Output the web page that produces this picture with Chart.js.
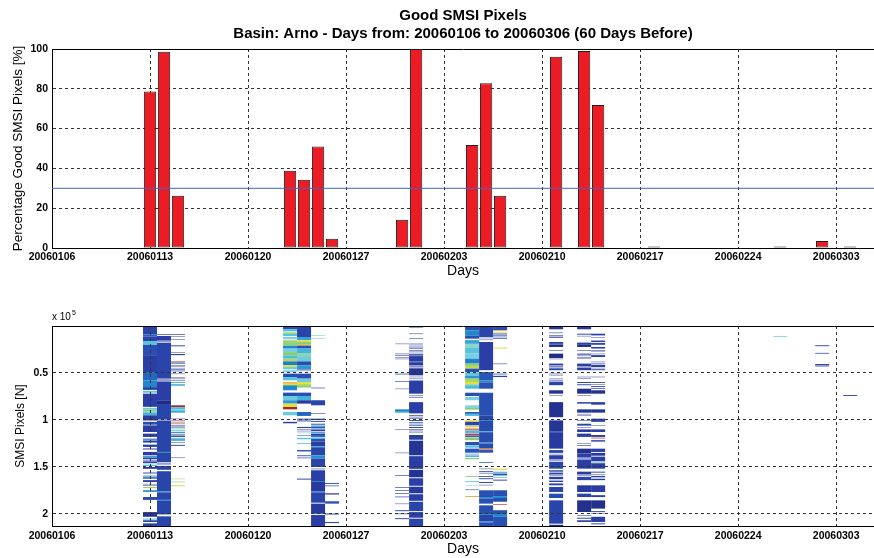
<!DOCTYPE html>
<html>
<head>
<meta charset="utf-8">
<script src="https://cdn.jsdelivr.net/npm/chart.js@4.4.0/dist/chart.umd.min.js"></script>
<style>
  html, body { margin: 0; padding: 0; background: #fff; }
  #wrap { position: relative; width: 874px; height: 558px; }
  #topChart { position: absolute; left: 0; top: 0; }
  #botChart { position: absolute; left: 0; top: 290px; }
</style>
</head>
<body>
<div id="wrap">
  <canvas id="topChart" width="874" height="290"></canvas>
  <canvas id="botChart" width="874" height="268"></canvas>
</div>
<script>
/* --- DATA --- */
const firstDay = '20060106';
const tickLabels = ['20060106', '20060113', '20060120', '20060127', '20060203', '20060210', '20060217', '20060224', '20060303'];
const lastVisibleDay = 58.7; // right edge of the axes (figure is cropped there)

// top panel: percentage of good SMSI pixels per day
const goodDays = ['20060113', '20060114', '20060115', '20060123', '20060124', '20060125', '20060126', '20060131', '20060201',
                  '20060205', '20060206', '20060207', '20060211', '20060213', '20060214', '20060218', '20060227', '20060302', '20060304'];
const goodPct = [78.6, 98.6, 26.2, 38.8, 34.3, 51, 4.7, 14.2, 100, 51.8, 82.8, 26.2, 96.1, 99, 71.9, 0.8, 0.8, 3.5, 0.8];
const threshold = 30;
const pctTicks = [0, 20, 40, 60, 80, 100];

// bottom panel: SMSI pixel strips, runs of [from, to, colour level] in thousands of pixels
const pixelsMax = 212.8;
const pixelTicks = [50, 100, 150, 200];
const px0113 = [[0,9,0.12],[9,11,0.2],[11,16,0.12],[16,20,0.42],[20,31,0.15],[31,49,0.1],[49,58,0.22],[58,65,0.3],[65,68,0.12],[69,71,0.42],
  [72,86,0.1],[87,89,0.45],[89,91,0.6],[91,92,0.45],[92,95,0.38],[95,100,0.1],[100.5,101,0.05],[102,105,0.15],[105.7,112.8,0.1],[114.5,118,0.1],
  [119.9,121,0.12],[121,122,0.4],[122,124,0.1],[126.2,128.7,0.12],[130,130.5,0.05],[131,131.5,0.05],[134,137.6,0.1],[138.3,140,0.35],[140,141.8,0.12],
  [143,143.5,0.05],[144,146,0.12],[147.5,149,0.42],[150,152,0.1],[155.3,155.8,0.05],[157,157.5,0.05],[159,160.5,0.4],[161,162.4,0.1],[164,166,0.1],
  [168,168.5,0.05],[169.5,170,0.05],[171.3,172.5,0.62],[174.8,176.5,0.3],[182,185,0.12],[198,203,0.05],[205,206,0.4],[206.7,208.5,0.1],[210,212.8,0.12]];
const px0114 = [[8.5,9.2,0.05],[10.6,15.6,0.1],[16.5,17,0.05],[17.7,56,0.12],[56.5,57,0.05],[58,58.5,0.05],[59,79,0.1],[79,83,0.02],[83,99.5,0.12],
  [100.5,134,0.12],[134,135,0.3],[135,145,0.12],[146,146.5,0.05],[147.5,148,0.05],[149,153,0.12],[154.5,176,0.12],[176,177,0.3],[177,185,0.12],
  [185,186,0.3],[186,200.5,0.12],[202.5,212.8,0.12]];
const px0115 = [[8.5,9.2,0.05],[11.2,11.7,0.05],[14.2,14.7,0.05],[20.6,21.6,0.1],[27.7,28.2,0.05],[29.8,31,0.12],[37.6,38.5,0.92],[38.8,39.5,0.3],
  [39.8,40.3,0.05],[41.8,42.3,0.05],[43.2,43.7,0.05],[45.4,46.4,0.1],[47.5,48.2,0.12],[50.7,51.2,0.05],[54.3,54.8,0.05],[56,56.5,0.05],[57.5,58,0.05],
  [59.6,60.6,0.38],[62,63.5,0.35],[84.4,86.5,0.98],[86.5,88.5,0.4],[88.5,90.5,0.45],[90.5,92.2,0.35],[98.6,99.1,0.05],[100.2,101,0.9],[102,102.5,0.05],
  [103.5,104.5,0.85],[105.5,106,0.05],[107,108,0.2],[109,110,0.55],[111,112,0.4],[113,114,0.25],[115,115.5,0.05],[116.5,118,0.12],[119,120,0.4],
  [120.5,122,0.3],[123.5,124,0.05],[126.5,127.5,0.1],[140,140.5,0.05],[162.4,163,0.62],[165.6,166.2,0.6],[169.5,170.5,0.68]];
const px0123 = [[0,3.5,0.15],[3.5,5.7,0.4],[6.4,7.8,0.7],[7.8,10.6,0.42],[11.7,14.2,0.48],[15.2,18,0.62],[18,21.3,0.58],[21.3,24.1,0.3],[24.1,27.7,0.47],
  [27.7,31.2,0.6],[31.2,34.8,0.4],[34.8,37.6,0.65],[37.6,41.8,0.28],[41.8,43.6,0.7],[43.6,46.1,0.45],[47,49,0.48],[50.7,54.3,0.15],[54.3,57.8,0.42],
  [59.6,61.5,0.78],[61.5,63.1,0.7],[63.1,68.4,0.3],[70.9,74.5,0.15],[74.5,79,0.45],[79,82.6,0.33],[82.6,86.2,0.7],[86.2,88.7,0.98],[91.5,95,0.45],
  [102,103.5,0.08]];
const px0124 = [[0,11.7,0.12],[11.7,15.2,0.35],[15.2,17,0.7],[17,20,0.6],[20,21,0.82],[21,24,0.15],[24,29.4,0.38],[29.4,33,0.55],[33,37.6,0.45],
  [37.6,41.8,0.15],[41.8,46,0.33],[46,46.5,0.08],[47.5,48,0.08],[50.7,56,0.15],[56,59.6,0.45],[59.6,61.5,0.7],[61.5,63,0.66],[63,65.5,0.6],
  [70.9,74.5,0.15],[74.5,79,0.38],[79,82.6,0.08],[91.5,95.7,0.22],[98.6,99.6,0.12],[100.5,101.5,0.12],[107.4,108.6,0.12],[110,110.5,0.08],
  [111.5,112,0.08],[113.5,114,0.4],[116,116.5,0.08],[119,120.5,0.42],[124.5,125.5,0.45],[132,133.5,0.15],[137.6,138.5,0.12],[140,140.7,0.08],
  [162.4,163.4,0.08]];
const px0125 = [[10,10.6,0.45],[12.8,13.4,0.45],[65.6,66.3,0.12],[79,84.4,0.12],[93,93.6,0.08],[98.6,100,0.12],[101,102,0.12],[104,105,0.12],
  [105.7,107,0.4],[107,109,0.18],[110,112,0.12],[113,114,0.3],[114.5,116,0.1],[116,118,0.2],[118.5,120,0.42],[120,123,0.15],[123,128,0.1],
  [128,129,0.35],[129,137.6,0.12],[137.6,141,0.32],[141,150,0.12],[151.8,152.4,0.08],[153.5,165,0.1],[165,166,0.25],[166,176,0.08],[176,177,0.25],
  [177,188,0.12],[189,199,0.08],[199,200,0.25],[201,212.8,0.1]];
const px0126 = [[167,168,0.15],[169.7,170.5,0.2],[178,179.3,0.08],[186.5,189,0.15],[199.6,200.6,0.12],[208.5,209.7,0.15]];
const px0131 = [[18.8,19.3,0.08],[29.4,30,0.1],[31.2,31.8,0.08],[33,33.5,0.1],[34.8,35.3,0.08],[50.7,51.5,0.12],[58.9,59.6,0.12],[66.7,67.2,0.08],
  [88.7,90.5,0.28],[90.5,92.2,0.35],[110,110.5,0.08],[134.8,135.3,0.08],[158.9,159.6,0.12],[171.3,172,0.1],[174.5,175.2,0.12],[178,178.7,0.1],
  [181.5,182.2,0.08],[189,189.5,0.08],[196,197,0.12],[199.5,200.2,0.1],[204.5,205.5,0.1]];
const px0201 = [[1,1.6,0.1],[8,8.6,0.1],[12.8,13.4,0.1],[18.8,19.5,0.12],[21,21.6,0.1],[23,24,0.12],[26,27,0.12],[28.5,29,0.08],[30,31.5,0.1],
  [32,38,0.1],[38.5,42,0.08],[43,44,0.1],[45,52.5,0.05],[54,54.5,0.08],[56,56.5,0.08],[58,72,0.1],[74,74.6,0.08],[76,76.6,0.1],[81,93,0.1],
  [95,96,0.12],[97.5,98.5,0.1],[100,101,0.12],[102.5,103.5,0.1],[105,106,0.12],[107.5,108.5,0.1],[110,111,0.1],[112.5,113.2,0.08],[116,121,0.1],
  [122,137.6,0.06],[138.5,152,0.1],[153,161,0.05],[162,170,0.1],[171,178,0.08],[179,186,0.1],[187,197,0.12],[198,204,0.1],[205,212.8,0.12]];
const px0205 = [[0,4.6,0.15],[4.6,10,0.3],[10,13.5,0.15],[15,19,0.35],[19,23.4,0.52],[23.4,29.4,0.42],[29.4,34.8,0.47],[34.8,40,0.28],[40,42.5,0.6],
  [42.5,45.4,0.66],[45.4,49,0.15],[49.5,52,0.4],[52.5,56,0.33],[56,59.6,0.64],[59.6,62,0.7],[62,63,0.58],[63,66.7,0.4],[71,74.5,0.15],[75.5,79,0.47],
  [84.4,87.2,0.48],[87.2,89,0.6],[91.5,93.5,0.2],[93.5,95.7,0.4],[100.4,102,0.72],[102,105.7,0.12],[106.4,107.8,0.72],[109,111.3,0.88],[111.3,114,0.4],
  [114.5,116.3,0.95],[116.5,118,0.15],[118.5,121.5,0.6],[123.4,127,0.15],[127.5,129.5,0.42],[130.5,134.8,0.18],[136,136.5,0.08],[137.6,139.5,0.4],
  [140.4,141.8,0.6],[159.6,160.5,0.6],[165,166,0.45],[169.5,170,0.47],[174,174.6,0.08],[180.9,181.8,0.82]];
const px0206 = [[0,11.7,0.12],[12.5,13,0.08],[14.5,15,0.08],[17,47,0.1],[49,58,0.18],[58,60,0.3],[60,66.7,0.15],[71,95,0.15],[95,100,0.12],
  [100,101,0.3],[101,112,0.14],[112,113,0.35],[113,124,0.14],[124,125,0.3],[125,130.5,0.14],[130.5,132,0.85],[132,134.8,0.15],[144.7,145.5,0.2],
  [151.8,152.3,0.08],[154.5,155.5,0.12],[157,157.5,0.08],[159.6,160.5,0.12],[162,163,0.12],[166,167,0.1],[169,169.5,0.08],[174.8,182,0.15],
  [182,183.5,0.3],[183.5,189,0.15],[190.8,200,0.15],[200,201,0.3],[201,208,0.12],[208,209,0.3],[209,212.8,0.15]];
const px0207 = [[0,4.4,0.15],[4.6,5.4,0.82],[6.2,7,0.68],[8,9,0.12],[10,11,0.15],[12.5,13.5,0.12],[23,24,0.72],[40,40.6,0.08],[50.7,51.5,0.15],
  [53,54.3,0.12],[151.8,153,0.72],[155,156.5,0.42],[157,159,0.15],[160.5,161.5,0.45],[163.5,164.5,0.12],[174.8,181,0.15],[181,183,0.3],[183,187,0.15],
  [189.7,190.5,0.95],[196,200,0.15],[200,203,0.3],[203,212.8,0.15]];
const px0211 = [[1,3.5,0.08],[7,7.6,0.08],[10,11,0.1],[12,12.8,0.08],[17,19,0.1],[19.5,22.3,0.02],[26,26.6,0.08],[29.4,34,0.02],[34.8,35.3,0.08],
  [40,42,0.1],[43,44,0.08],[45,47,0.12],[50.7,51.2,0.08],[52,52.5,0.08],[56,56.6,0.08],[58,58.9,0.08],[59.6,63,0.12],[68.4,72,0.05],[74,74.5,0.08],
  [81,97,0.05],[100.4,112,0.06],[112,113,0.12],[113,130.5,0.08],[132,135,0.12],[136,136.5,0.08],[137.5,142,0.1],[143,143.5,0.08],[144.5,151.8,0.12],
  [153.5,155,0.1],[156,158,0.12],[159,159.5,0.08],[160.5,163,0.1],[164.5,166,0.12],[167.5,169.5,0.1],[171.3,176.6,0.12],[178.4,183,0.14],
  [185.5,210.3,0.12],[211.5,212.8,0.05]];
const px0213 = [[1,3.5,0.08],[8.2,9.2,0.1],[10.5,11,0.08],[17.7,20,0.1],[20,22.3,0.02],[26,26.6,0.08],[29.4,30.5,0.1],[31.5,32,0.08],[33.5,34.5,0.08],
  [40,43,0.1],[43.5,44,0.08],[44.5,47,0.1],[54,54.5,0.08],[55.5,56,0.08],[59.6,60.6,0.1],[62,63,0.12],[66.7,72,0.04],[74,74.5,0.08],[81,82.6,0.1],
  [88.7,92.2,0.06],[93.5,94,0.08],[95,95.5,0.08],[100.4,101,0.08],[104,106,0.12],[107.5,108,0.08],[110,112.8,0.08],[114.5,118,0.1],[125,125.5,0.08],
  [127,127.7,0.08],[130.5,135.8,0.04],[136,140,0.1],[140.5,141,0.08],[142,151.8,0.1],[155,158,0.08],[159,159.5,0.08],[160.5,164,0.12],
  [169.5,176.6,0.08],[178.4,182,0.12],[185.5,197.9,0.04],[201.4,202,0.08],[204,205,0.1],[206.7,208.5,0.1]];
const px0214 = [[8.2,10,0.1],[12,12.5,0.08],[15.5,17,0.1],[18,20,0.12],[22.3,24,0.1],[26,27,0.08],[29.5,30,0.08],[31,33,0.1],[38,38.5,0.08],
  [39.5,40,0.08],[41.2,43.6,0.1],[44.5,45,0.08],[46,47,0.1],[54,54.5,0.08],[59.6,60.5,0.1],[62,62.5,0.08],[64,65,0.1],[66,66.7,0.08],[68.4,72,0.04],
  [81,83.7,0.1],[88.7,92.2,0.06],[98.6,102,0.12],[105.7,106.2,0.08],[110,112.8,0.1],[116,118,0.1],[118.8,119.6,0.95],[121.5,123,0.1],[130.5,134,0.1],
  [135,138,0.08],[139,144,0.1],[144.5,145.5,0.55],[146,151.8,0.1],[155,156,0.1],[157.5,158,0.08],[159.5,161,0.12],[162.5,164,0.1],[169.5,176.6,0.1],
  [180,182,0.1],[185.5,194.3,0.04],[197,198,0.1],[199.5,200,0.08],[203,208.5,0.1],[210,211,0.1]];
const px0227 = [[10.6,11.4,0.45]];
const px0302 = [[20.5,21.5,0.12],[28.6,29.4,0.12],[40.5,41.5,0.08],[42,43,0.1]];
const px0304 = [[73.5,74.5,0.12]];
const stripeDays = ['20060113', '20060114', '20060115', '20060123', '20060124', '20060125', '20060126', '20060131', '20060201',
                    '20060205', '20060206', '20060207', '20060211', '20060213', '20060214', '20060227', '20060302', '20060304'];
const stripeRuns = [px0113, px0114, px0115, px0123, px0124, px0125, px0126, px0131, px0201,
                    px0205, px0206, px0207, px0211, px0213, px0214, px0227, px0302, px0304];

/* --- HELPERS --- */
const ymd = (s) => Date.UTC(+s.slice(0, 4), +s.slice(4, 6) - 1, +s.slice(6, 8));
const dayIndex = (s) => Math.round((ymd(s) - ymd(firstDay)) / 864e5);
const tickDays = tickLabels.map(dayIndex);

// jet-like colour map used by the strip image
const cmap = [[0, [30, 40, 125]], [0.1, [42, 62, 165]], [0.2, [38, 95, 190]], [0.3, [30, 135, 205]], [0.4, [75, 190, 222]],
              [0.5, [140, 215, 225]], [0.6, [140, 205, 115]], [0.7, [225, 225, 60]], [0.8, [242, 170, 45]], [0.9, [215, 110, 120]], [1, [150, 22, 22]]];
function colorAt(v) {
    for (let i = 1; i < cmap.length; i++) {
        if (v <= cmap[i][0]) {
            const [a, ca] = cmap[i - 1], [b, cb] = cmap[i];
            const t = (v - a) / (b - a);
            const c = ca.map((x, k) => Math.round(x + (cb[k] - x) * t));
            return `rgb(${c[0]},${c[1]},${c[2]})`;
        }
    }
    return 'rgb(150,22,22)';
}

Chart.defaults.font.family = "'Liberation Sans', Arial, Helvetica, sans-serif";
Chart.defaults.color = '#000';
Chart.defaults.animation = false;
Chart.defaults.plugins.legend.display = false;
Chart.defaults.plugins.tooltip.enabled = false;

const tickFont = { size: 10.5, weight: 'bold' };

// z = 0 for the bar panel (grid under bars), z = 1 for the strip image (grid over strips)
// grid lines that would sit on the axes frame are hidden so the frame stays solid
function gridCfg(z, lo, hi) {
    return {
        color: (c) => (c.tick && (c.tick.value === lo || c.tick.value === hi)) ? 'rgba(0,0,0,0)' : '#333',
        lineWidth: 1, drawTicks: false, offset: false, z: z
    };
}
function borderCfg(z) { return { display: true, color: '#000', width: 1, dash: [3, 3], z: z }; }

function xAxis(height, labelPad, titlePad, z) {
    return {
        type: 'linear', position: 'bottom', min: 0, max: lastVisibleDay, offset: false,
        afterBuildTicks: (ax) => { ax.ticks = tickDays.map(v => ({ value: v })); },
        afterFit: (ax) => { ax.height = height; },
        ticks: { font: tickFont, padding: labelPad, maxRotation: 0, autoSkip: false, callback: (v, i) => tickLabels[i] },
        grid: gridCfg(z, 0, lastVisibleDay),
        border: borderCfg(z),
        title: { display: true, text: 'Days', font: { size: 14 }, padding: { top: 0, bottom: titlePad } }
    };
}
function frameTop(height, z, title) {
    return {
        type: 'linear', position: 'top', min: 0, max: lastVisibleDay, offset: false,
        afterFit: (ax) => { ax.height = height; },
        ticks: { display: false },
        grid: { display: false, drawTicks: false, z: z },
        border: { display: true, color: '#000', width: 1, z: z },
        title: title || { display: false }
    };
}

/* --- TOP: percentage of good pixels --- */
new Chart(document.getElementById('topChart'), {
    type: 'bar',
    data: {
        datasets: [
            {
                type: 'line', order: 0,
                data: [{ x: 0, y: threshold }, { x: lastVisibleDay, y: threshold }],
                borderColor: '#3f66c4', borderWidth: 1, pointRadius: 0, xAxisID: 'x', yAxisID: 'y'
            },
            {
                type: 'bar', order: 1,
                data: goodDays.map((d, i) => ({ x: dayIndex(d), y: goodPct[i] })),
                backgroundColor: 'rgb(237,28,36)', borderColor: '#1e1e1e', borderWidth: 1, borderSkipped: false,
                barPercentage: 0.88, categoryPercentage: 1, xAxisID: 'x', yAxisID: 'y'
            }
        ]
    },
    options: {
        responsive: false,
        layout: { padding: 0 },
        scales: {
            x: xAxis(42, 3, 10, 0),
            x2: frameTop(49, 0, {
                display: true, font: { size: 15, weight: 'bold', lineHeight: 1.2 }, padding: { top: 7, bottom: 0 },
                text: ['Good SMSI Pixels', 'Basin: Arno - Days from: 20060106 to 20060306 (60 Days Before)']
            }),
            y: {
                type: 'linear', min: 0, max: 100,
                afterBuildTicks: (ax) => { ax.ticks = pctTicks.map(v => ({ value: v })); },
                afterFit: (ax) => { ax.width = 52; },
                ticks: { font: tickFont, padding: 4 },
                grid: gridCfg(0, 0, 100), border: borderCfg(0),
                title: { display: true, text: 'Percentage Good SMSI Pixels [%]', font: { size: 13.5 }, padding: { top: 10, bottom: 0 } }
            }
        }
    }
});

/* --- BOTTOM: pixel strips --- */
const stripData = [];
stripeDays.forEach((d, i) => {
    stripeRuns[i].forEach(r => stripData.push({ x: dayIndex(d), y: [r[0], r[1]], c: r[2] }));
});

const exponentLabel = {
    id: 'exponentLabel',
    afterDraw(chart) {
        const { ctx, chartArea } = chart;
        ctx.save();
        ctx.fillStyle = '#000';
        ctx.textBaseline = 'middle';
        ctx.font = "10px 'Liberation Sans', Arial, sans-serif";
        ctx.fillText('x 10', chartArea.left, chartArea.top - 9);
        const w = ctx.measureText('x 10').width;
        ctx.font = "7px 'Liberation Sans', Arial, sans-serif";
        ctx.fillText('5', chartArea.left + w + 1, chartArea.top - 13);
        ctx.restore();
    }
};

new Chart(document.getElementById('botChart'), {
    type: 'bar',
    data: {
        datasets: [{
            data: stripData,
            backgroundColor: (c) => colorAt(c.raw ? c.raw.c : 0),
            borderWidth: 0, inflateAmount: 0,
            barPercentage: 1, categoryPercentage: 1
        }]
    },
    options: {
        responsive: false,
        layout: { padding: 0 },
        scales: {
            x: xAxis(32, 4, 0, 1),
            x2: frameTop(36, 1),
            y: {
                type: 'linear', reverse: true, min: 0, max: pixelsMax,
                afterBuildTicks: (ax) => { ax.ticks = pixelTicks.map(v => ({ value: v })); },
                afterFit: (ax) => { ax.width = 52; },
                ticks: { font: tickFont, padding: 4, callback: (v) => String(v / 100) },
                grid: gridCfg(1, 0, pixelsMax), border: borderCfg(1),
                title: { display: true, text: 'SMSI Pixels [N]', font: { size: 12 }, padding: { top: 13, bottom: 0 } }
            }
        }
    },
    plugins: [exponentLabel]
});
</script>
</body>
</html>
